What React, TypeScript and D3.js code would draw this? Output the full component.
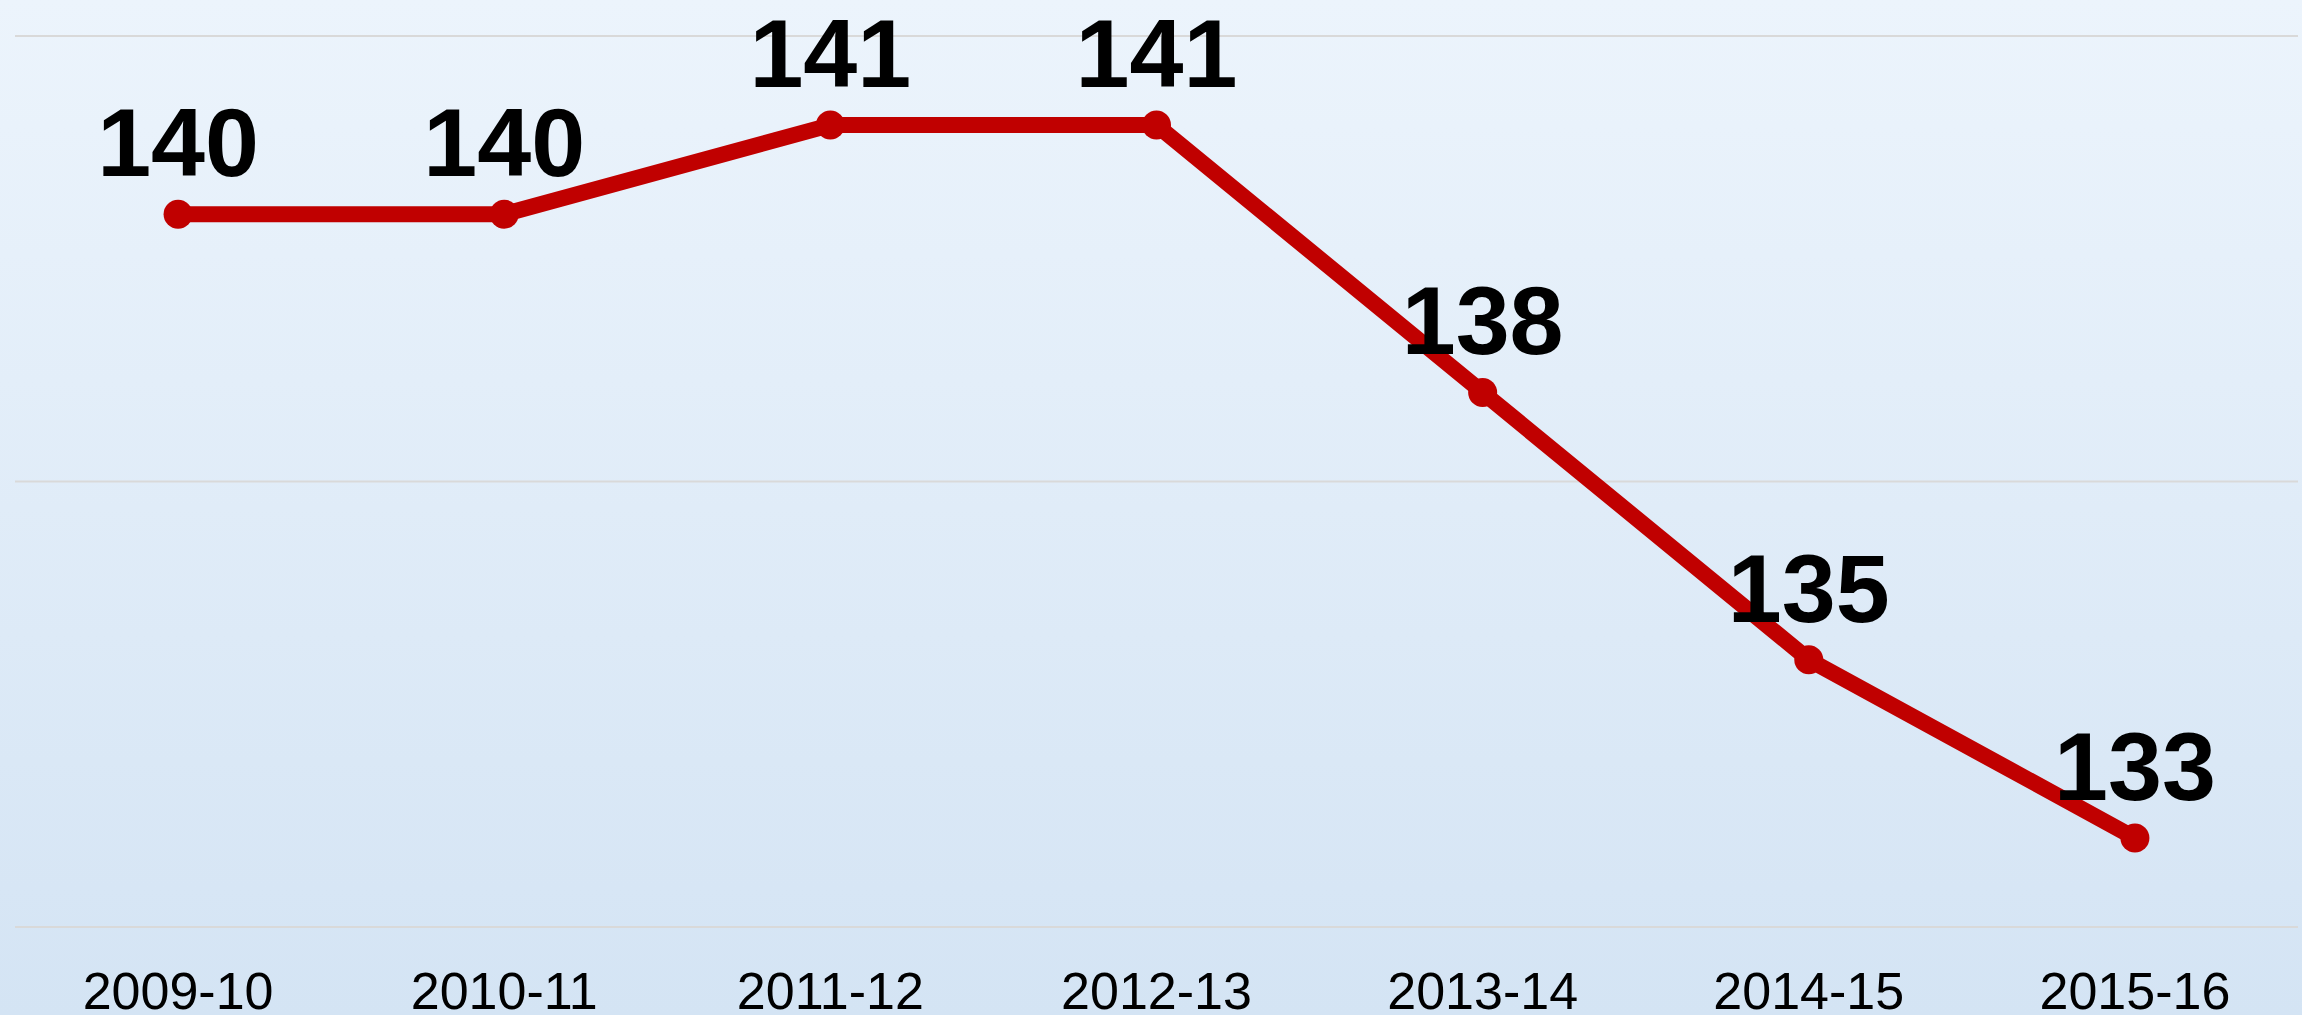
import React from "react";
import * as d3 from "d3";

const categories = ["2009-10", "2010-11", "2011-12", "2012-13", "2013-14", "2014-15", "2015-16"];
const values = [140, 140, 141, 141, 138, 135, 133];
const yTicks = [132, 137, 142];

const W = 2302;
const H = 1015;

export default function App() {
  const x = d3.scaleBand<string>().domain(categories).range([15, 2298]);
  const y = d3.scaleLinear().domain([132, 142]).range([927, 36]);
  const cx = (c: string) => (x(c) ?? 0) + x.bandwidth() / 2;
  const pts = categories.map((c, i) => ({ c, v: values[i] }));
  const line = d3
    .line<{ c: string; v: number }>()
    .x((d) => cx(d.c))
    .y((d) => y(d.v));

  return (
    <svg
      width={W}
      height={H}
      style={{ position: "absolute", left: 0, top: 0, display: "block" }}
    >
      <defs>
        <linearGradient id="bg" x1="0" y1="0" x2="0" y2="1">
          <stop offset="0%" stopColor="#ECF4FC" />
          <stop offset="100%" stopColor="#D4E4F4" />
        </linearGradient>
      </defs>
      <rect x={0} y={0} width={W} height={H} fill="url(#bg)" />
      {yTicks.map((t) => (
        <line
          key={t}
          x1={15}
          x2={2298}
          y1={y(t)}
          y2={y(t)}
          stroke="#D9D9D9"
          strokeWidth={2}
        />
      ))}
      <path
        d={line(pts) ?? ""}
        fill="none"
        stroke="#C00000"
        strokeWidth={16}
        strokeLinejoin="round"
      />
      {pts.map((d) => (
        <circle key={d.c} cx={cx(d.c)} cy={y(d.v)} r={14.5} fill="#C00000" />
      ))}
      {pts.map((d) => (
        <text
          key={"l" + d.c}
          x={cx(d.c)}
          y={y(d.v) - 38}
          textAnchor="middle"
          fontFamily="'Liberation Sans', Arial, sans-serif"
          fontWeight="bold"
          fontSize={97}
          fill="#000"
        >
          {d.v}
        </text>
      ))}
      {categories.map((c) => (
        <text
          key={"x" + c}
          x={cx(c)}
          y={1009}
          textAnchor="middle"
          fontFamily="'Liberation Sans', Arial, sans-serif"
          fontSize={52}
          fill="#000"
        >
          {c}
        </text>
      ))}
    </svg>
  );
}
